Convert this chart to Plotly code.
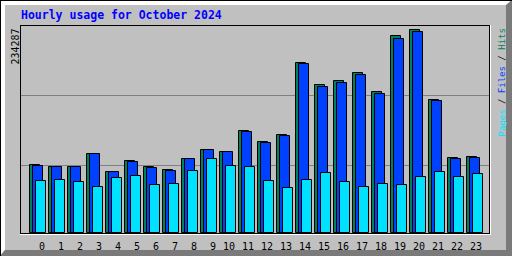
import plotly.graph_objects as go

# ---------------- data ----------------
title_text = "Hourly usage for October 2024"
hour_labels = ["0", "1", "2", "3", "4", "5", "6", "7", "8", "9", "10", "11",
               "12", "13", "14", "15", "16", "17", "18", "19", "20", "21", "22", "23"]
hits = [78480, 76170, 76170, 91170, 70400, 83100, 76170, 72710, 85400, 95790, 93480, 117720,
        105020, 113100, 196200, 170810, 175420, 184660, 162730, 227360, 234287, 153500, 86560, 87710]
files = [77320, 75900, 75900, 90800, 70100, 81940, 75020, 71550, 85100, 95500, 93200, 116560,
         103870, 111950, 195040, 168500, 173120, 182350, 160420, 223900, 231970, 152340, 85400, 86560]
pages = [60010, 61170, 58860, 53090, 63480, 65780, 55400, 56550, 71550, 85400, 77320, 76170,
         60010, 51930, 61170, 69250, 58860, 53090, 56550, 55400, 64630, 70400, 64630, 68090]
max_label = "234287"

# ---------------- styling ----------------
W, H = 512, 256
L, R, T, B = 20, 490, 25, 234          # plot area in pixels
BG = "#c0c0c0"
C_HITS, C_FILES, C_PAGES = "#00805c", "#0040ff", "#00e0ff"
MONO = "DejaVu Sans Mono"

UNIT = 19.0                              # px per hour slot
BARW = 10.0 / UNIT
PX_PER_VAL = 203.0 / 234287.0            # px per hit
Y0 = -1.5 / PX_PER_VAL
Y1 = (B - T - 1.5) / PX_PER_VAL
XA = -20.5 / UNIT
XB = XA + (R - L) / UNIT


def px(x):
    return (x - L) / (R - L)


def py(y):
    return (B - y) / (B - T)


x_pos = list(range(len(hour_labels)))

fig = go.Figure()
for vals, col, off in [(hits, C_HITS, -11.0), (files, C_FILES, -8.0), (pages, C_PAGES, -5.0)]:
    fig.add_trace(go.Bar(
        x=x_pos, y=vals, width=BARW, offset=off / UNIT,
        marker=dict(color=col, line=dict(color="black", width=1)),
        showlegend=False, hoverinfo="skip"))

shapes = []
# outer 3D frame
shapes.append(dict(type="rect", xref="paper", yref="paper", x0=px(0), x1=px(W), y0=py(0), y1=py(H),
                   fillcolor=BG, line=dict(width=0), layer="below"))
# white bevel top/left
shapes.append(dict(type="path", xref="paper", yref="paper",
                   path=f"M{px(0)},{py(0)} L{px(W)},{py(0)} L{px(W-6)},{py(5)} L{px(5)},{py(5)} "
                        f"L{px(5)},{py(H-6)} L{px(0)},{py(H)} Z",
                   fillcolor="white", line=dict(width=0), layer="below"))
# dark bevel bottom/right
shapes.append(dict(type="path", xref="paper", yref="paper",
                   path=f"M{px(W)},{py(0)} L{px(W)},{py(H)} L{px(0)},{py(H)} L{px(5)},{py(H-6)} "
                        f"L{px(W-6)},{py(H-6)} L{px(W-6)},{py(5)} Z",
                   fillcolor="#7a7a7a", line=dict(width=0), layer="below"))
# black outer edge top/left
shapes.append(dict(type="rect", xref="paper", yref="paper", x0=px(0), x1=px(W), y0=py(0), y1=py(1),
                   fillcolor="black", line=dict(width=0), layer="below"))
shapes.append(dict(type="rect", xref="paper", yref="paper", x0=px(0), x1=px(1), y0=py(0), y1=py(H),
                   fillcolor="black", line=dict(width=0), layer="below"))
# grid lines
for gy in (95, 165):
    shapes.append(dict(type="rect", xref="paper", yref="paper", x0=px(21), x1=px(489),
                       y0=py(gy), y1=py(gy + 1), fillcolor="#808080", line=dict(width=0), layer="below"))
# inner frame: white right/bottom, black top/left
shapes.append(dict(type="rect", xref="paper", yref="paper", x0=px(L), x1=px(R + 1), y0=py(B), y1=py(B + 1),
                   fillcolor="white", line=dict(width=0), layer="above"))
shapes.append(dict(type="rect", xref="paper", yref="paper", x0=px(R), x1=px(R + 1), y0=py(T), y1=py(B + 1),
                   fillcolor="white", line=dict(width=0), layer="above"))
shapes.append(dict(type="rect", xref="paper", yref="paper", x0=px(L), x1=px(R), y0=py(T), y1=py(T + 1),
                   fillcolor="black", line=dict(width=0), layer="above"))
shapes.append(dict(type="rect", xref="paper", yref="paper", x0=px(L), x1=px(L + 1), y0=py(T), y1=py(B),
                   fillcolor="black", line=dict(width=0), layer="above"))
shapes.append(dict(type="rect", xref="paper", yref="paper", x0=px(R - 1), x1=px(R), y0=py(T), y1=py(B),
                   fillcolor="black", line=dict(width=0), layer="above"))
shapes.append(dict(type="rect", xref="paper", yref="paper", x0=px(L), x1=px(R), y0=py(B - 1), y1=py(B),
                   fillcolor="black", line=dict(width=0), layer="above"))

annotations = [
    dict(text=f"<b>{title_text}</b>", xref="paper", yref="paper", x=px(19), y=py(15),
         xanchor="left", yanchor="middle", showarrow=False,
         font=dict(family=MONO, size=11.5, color="#0000ff")),
    dict(text=max_label, xref="paper", yref="paper", x=px(15), y=py(26.5),
         xanchor="center", yanchor="top", textangle=-90, showarrow=False,
         font=dict(family=MONO, size=10, color="black")),
    dict(text=(f"<span style='color:{C_PAGES}'>Pages</span> / "
               f"<span style='color:{C_FILES}'>Files</span> / "
               f"<span style='color:{C_HITS}'>Hits</span>"),
         xref="paper", yref="paper", x=px(501), y=py(26.5),
         xanchor="center", yanchor="top", textangle=-90, showarrow=False,
         font=dict(family=MONO, size=9, color="black")),
]

tick_vals = [i + (0.079 if len(lbl) == 1 else -0.079) for i, lbl in enumerate(hour_labels)]

fig.update_layout(
    template="none",
    width=W, height=H,
    margin=dict(l=L, r=W - R, t=T, b=H - B, pad=0, autoexpand=False),
    paper_bgcolor=BG, plot_bgcolor="rgba(0,0,0,0)",
    barmode="overlay", bargap=0,
    shapes=shapes, annotations=annotations,
    xaxis=dict(range=[XA, XB], showgrid=False, zeroline=False, showline=False, automargin=False,
               tickmode="array", tickvals=tick_vals, ticktext=hour_labels, ticks="",
               ticklabelstandoff=5,
               tickfont=dict(family=MONO, size=10, color="black"), fixedrange=True),
    yaxis=dict(range=[Y0, Y1], showgrid=False, zeroline=False, showline=False, automargin=False,
               showticklabels=False, ticks="", fixedrange=True),
)

fig.write_html("out.html", config={"displayModeBar": False})
